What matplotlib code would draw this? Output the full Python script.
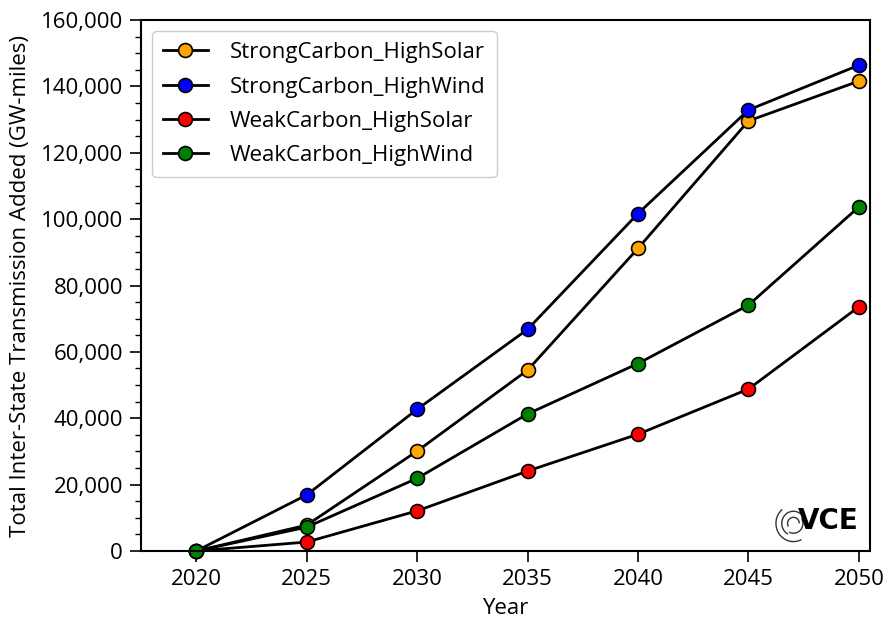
import numpy as np
import matplotlib.pyplot as plt
from matplotlib.ticker import FuncFormatter, MultipleLocator
from matplotlib.patches import Arc

plt.rcParams['font.family'] = ['Open Sans', 'DejaVu Sans']

years = [2020, 2025, 2030, 2035, 2040, 2045, 2050]
strong_solar = [0, 7800, 30100, 54500, 91200, 129600, 141600]
strong_wind = [0, 16900, 42700, 66800, 101700, 132900, 146400]
weak_solar = [0, 2700, 12100, 24100, 35200, 48800, 73600]
weak_wind = [0, 7200, 21900, 41300, 56500, 74100, 103700]

series = [
    ('StrongCarbon_HighSolar', strong_solar, 'orange'),
    ('StrongCarbon_HighWind', strong_wind, 'blue'),
    ('WeakCarbon_HighSolar', weak_solar, 'red'),
    ('WeakCarbon_HighWind', weak_wind, 'green'),
]

fig = plt.figure(figsize=(8.88, 6.18), dpi=100)
ax = fig.add_axes([0.1588, 0.1084, 0.8209, 0.8592])

for name, vals, col in series:
    ax.plot(years, vals, '-o', color='black', lw=2, markersize=10,
            markerfacecolor=col, markeredgecolor='black', markeredgewidth=1.2,
            label=name, clip_on=False)

ax.set_xlim(2017.5, 2050.5)
ax.set_ylim(0, 160000)
ax.set_xticks(years)
ax.yaxis.set_major_locator(MultipleLocator(20000))
ax.yaxis.set_minor_locator(MultipleLocator(5000))
ax.yaxis.set_major_formatter(FuncFormatter(lambda v, p: f'{int(v):,}'))
ax.tick_params(axis='both', which='major', labelsize=16, length=8, width=1.2,
               direction='out', pad=5)
ax.tick_params(axis='y', which='minor', length=4, width=1)
for s in ax.spines.values():
    s.set_linewidth(1.5)

ax.set_xlabel('Year', fontsize=16, labelpad=6)
ax.set_ylabel('Total Inter-State Transmission Added (GW-miles)', fontsize=16, labelpad=7)

leg = ax.legend(loc='upper left', fontsize=16, handlelength=2.0, handletextpad=1.0,
                borderpad=0.5, labelspacing=0.6, framealpha=1, edgecolor='#cccccc',
                bbox_to_anchor=(0.0, 1.0))

# VCE logo
ax.text(0.985, 0.03, 'VCE', transform=ax.transAxes, ha='right', va='bottom',
        fontsize=20, fontweight='bold', family=['DejaVu Sans'])
cx, cy = 0.895, 0.052
for r, t1, t2 in [(0.008, 0, 220), (0.016, 60, 250), (0.024, 120, 290), (0.013, 250, 400)]:
    ax.add_patch(Arc((cx, cy), 2 * r * 1.0, 2 * r * 1.43, theta1=t1, theta2=t2,
                     transform=ax.transAxes, color='#333333', lw=1.0))

fig.savefig('out.png', dpi=100)
